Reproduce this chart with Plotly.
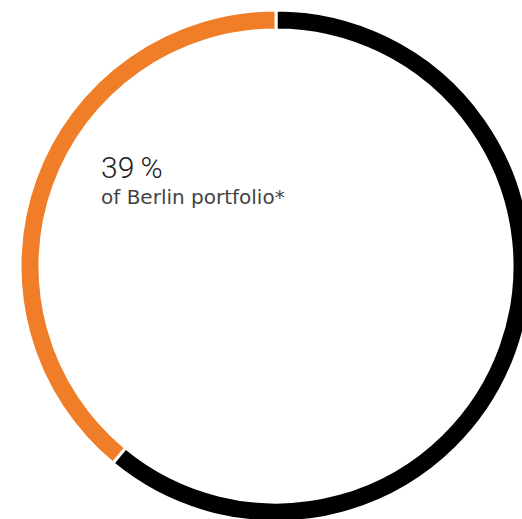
import plotly.graph_objects as go

labels = ["Rest", "Berlin portfolio share"]
values = [61, 39]
colors = ["#000000", "#F07D27"]
headline = "39\u2009%"
subline = "of Berlin portfolio*"

W, H = 552, 532
ml, mr, mt, mb = 10, 10, 10, 10

fig = go.Figure(go.Pie(
    labels=labels, values=values, hole=0.922, sort=False,
    direction="clockwise", rotation=0,
    marker=dict(colors=colors, line=dict(color="white", width=3)),
    textinfo="none", hoverinfo="none", showlegend=False,
))

pw, ph = W - ml - mr, H - mt - mb
def px(x):
    return (x - ml) / pw
def py(y):
    return 1 - (y - mt) / ph

fig.add_annotation(x=px(99), y=py(167), xref="paper", yref="paper", text=headline,
                   showarrow=False, xanchor="left", yanchor="middle",
                   font=dict(family="Roboto", size=30, color="#222222", weight=300))
fig.add_annotation(x=px(99), y=py(197), xref="paper", yref="paper", text=subline,
                   showarrow=False, xanchor="left", yanchor="middle",
                   font=dict(family="DejaVu Sans", size=20, color="#444444", weight=400))

fig.update_layout(width=W, height=H, margin=dict(l=ml, r=mr, t=mt, b=mb),
                  paper_bgcolor="white", plot_bgcolor="white")

fig.write_html("out.html", config={"displayModeBar": False},
               post_script="document.body.style.margin='0';document.body.style.overflow='hidden';document.documentElement.style.overflow='hidden';")
